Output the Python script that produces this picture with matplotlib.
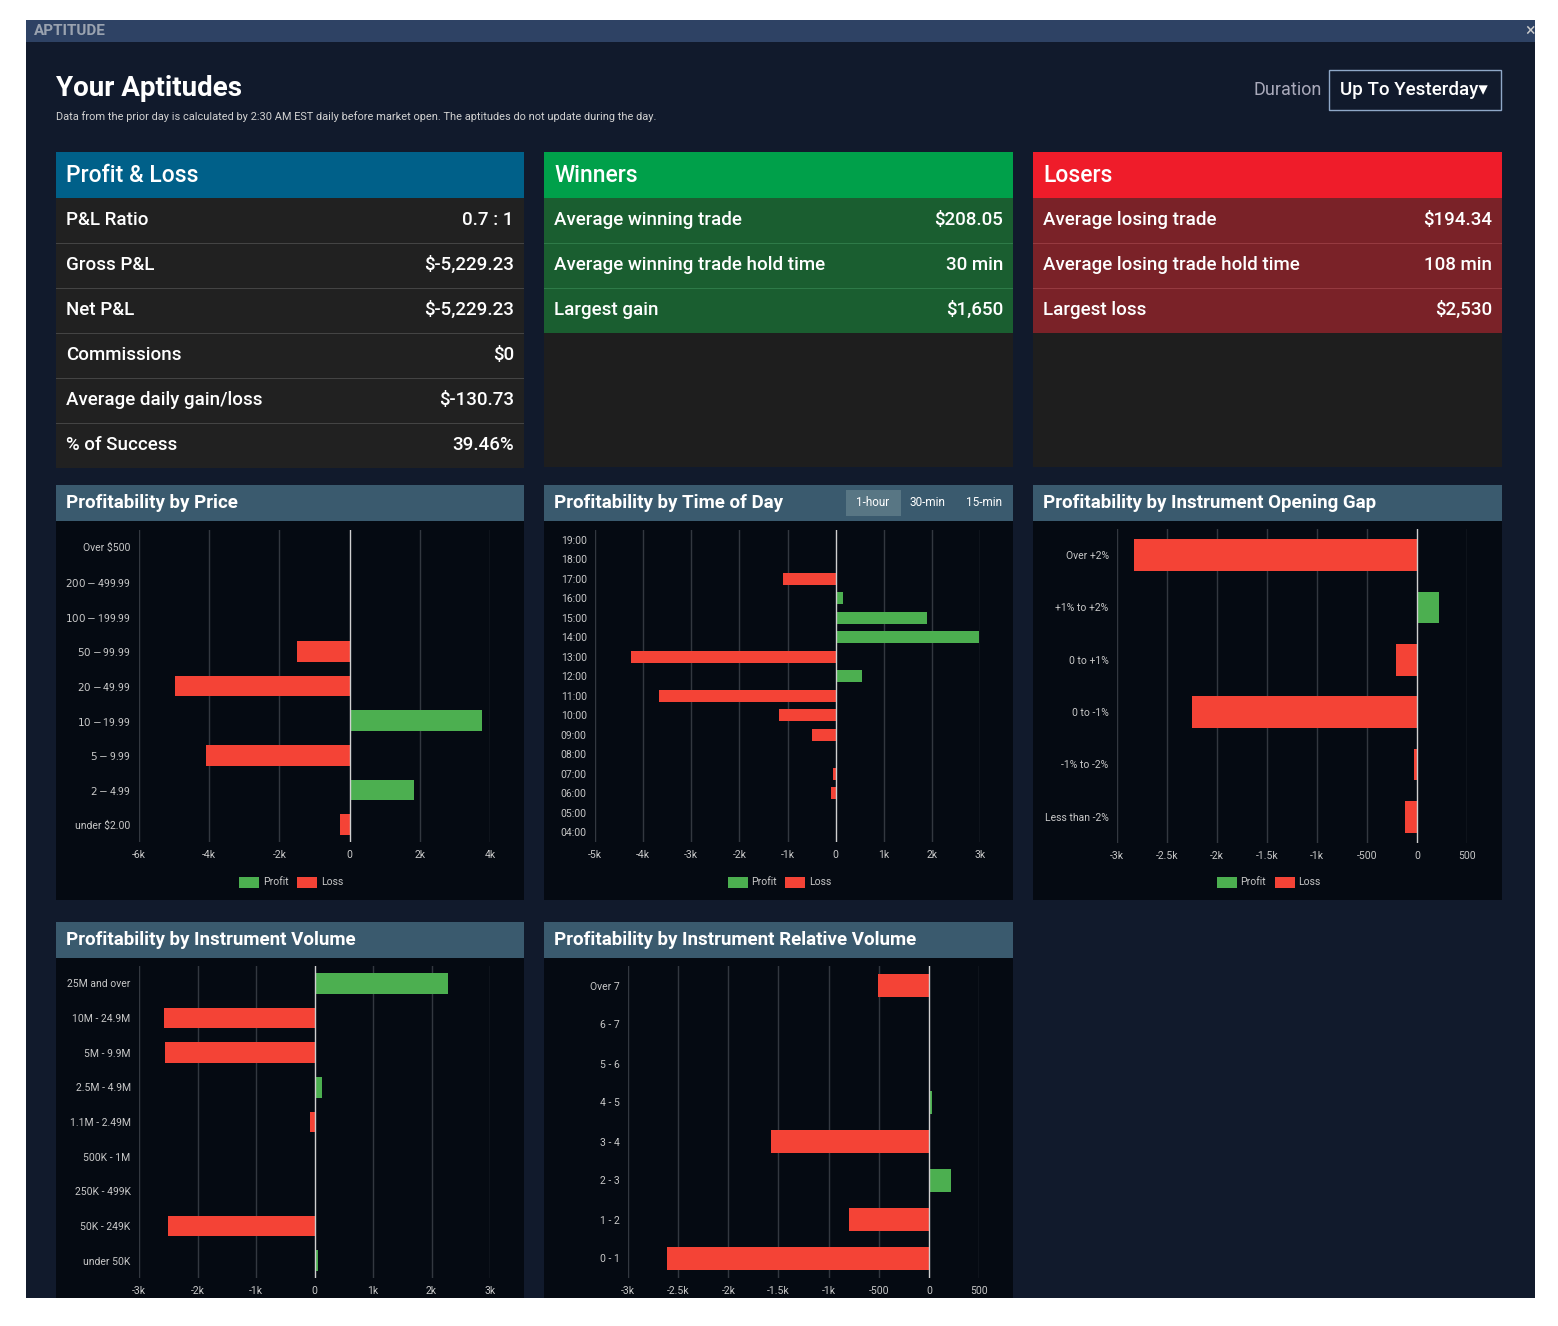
import matplotlib.pyplot as plt
from matplotlib.patches import Rectangle

W, H = 1558, 1326
plt.rcParams['font.family'] = ['Roboto', 'DejaVu Sans']

# --- data ---
pl_rows = [("P&L Ratio", "0.7 : 1"), ("Gross P&L", "$-5,229.23"), ("Net P&L", "$-5,229.23"),
           ("Commissions", "$0"), ("Average daily gain/loss", "$-130.73"), ("% of Success", "39.46%")]
win_rows = [("Average winning trade", "$208.05"), ("Average winning trade hold time", "30 min"),
            ("Largest gain", "$1,650")]
loss_rows = [("Average losing trade", "$194.34"), ("Average losing trade hold time", "108 min"),
             ("Largest loss", "$2,530")]

price_cats = ["Over $500", "$200 - $499.99", "$100 - $199.99", "$50 - $99.99", "$20 - $49.99",
              "$10 - $19.99", "$5 - $9.99", "$2 - $4.99", "under $2.00"]
price_vals = [0, 0, 0, -1490, -4970, 3770, -4090, 1830, -260]

time_cats = ["19:00", "18:00", "17:00", "16:00", "15:00", "14:00", "13:00", "12:00", "11:00",
             "10:00", "09:00", "08:00", "07:00", "06:00", "05:00", "04:00"]
time_vals = [0, 0, -1100, 150, 1900, 2970, -4250, 540, -3680, -1180, -500, 0, -60, -90, 0, 0]

gap_cats = ["Over +2%", "+1% to +2%", "0 to +1%", "0 to -1%", "-1% to -2%", "Less than -2%"]
gap_vals = [-2830, 220, -210, -2250, -30, -120]

vol_cats = ["25M and over", "10M - 24.9M", "5M - 9.9M", "2.5M - 4.9M", "1.1M - 2.49M",
            "500K - 1M", "250K - 499K", "50K - 249K", "under 50K"]
vol_vals = [2290, -2580, -2560, 120, -70, 0, 0, -2500, 60]

rvol_cats = ["Over 7", "6 - 7", "5 - 6", "4 - 5", "3 - 4", "2 - 3", "1 - 2", "0 - 1"]
rvol_vals = [-510, 0, 0, 30, -1570, 220, -800, -2610]

GREEN, RED = "#4caf50", "#f44336"

fig = plt.figure(figsize=(W / 100, H / 100), dpi=100, facecolor="white")


def rect(x0, y0, x1, y1, color, **kw):
    fig.patches.append(Rectangle((x0 / W, 1 - y1 / H), (x1 - x0) / W, (y1 - y0) / H,
                                 transform=fig.transFigure, color=color, lw=0, **kw))


def text(x, y, s, **kw):
    kw.setdefault("color", "white")
    kw.setdefault("va", "center")
    fig.text(x / W, 1 - y / H, s, **kw)


# window
rect(26, 20, 1535, 1298, "#111a2c")
rect(26, 20, 1535, 42, "#2e4264")
text(34, 31, "APTITUDE", color="#9aa3b0", fontsize=11, fontweight="bold")
text(1525, 31, "×", color="#ccc", fontsize=13)
text(56, 88, "Your Aptitudes", fontsize=20, fontweight="bold")
text(56, 117, "Data from the prior day is calculated by 2:30 AM EST daily before market open. "
     "The aptitudes do not update during the day.", fontsize=7.9, color="#d0d0d0")
text(1322, 90, "Duration", fontsize=13, color="#aab", ha="right")
fig.patches.append(Rectangle((1329 / W, 1 - 110 / H), 172 / W, 40 / H, transform=fig.transFigure,
                             fill=False, ec="#8fa8c8", lw=1))
text(1340, 90, "Up To Yesterday▾", fontsize=13.5, fontweight="medium")


# stat cards
def card(x0, x1, title, hcol, rowcol, rows, seps):
    rect(x0, 152, x1, 467, "#1e1e1e")
    rect(x0, 152, x1, 198, hcol)
    text(x0 + 10, 176, title, fontsize=16.5, fontweight="medium")
    for i, (k, v) in enumerate(rows):
        y0 = 198 + i * 45
        rect(x0, y0, x1, y0 + 45, rowcol)
        if i > 0:
            rect(x0, y0, x1, y0 + 1, seps)
        text(x0 + 10, y0 + 22, k, fontsize=13.5, fontweight="medium")
        text(x1 - 10, y0 + 22, v, fontsize=13.5, ha="right", fontweight="medium")


card(56, 524, "Profit & Loss", "#006089", "#212121", pl_rows, "#444")
card(544, 1013, "Winners", "#00a04a", "#1a5e30", win_rows, "#2e7a48")
card(1033, 1502, "Losers", "#ef1c2a", "#7a2228", loss_rows, "#963a40")


def chart(px0, px1, py0, py1, title, cats, vals, xlim, ticks, tlabels, ax_x, ax_y, legend=True):
    rect(px0, py0, px1, py1, "#050a12")
    rect(px0, py0, px1, py0 + 36, "#3a5a6e")
    text(px0 + 10, py0 + 18, title, fontsize=13.5, fontweight="bold")
    ax = fig.add_axes([ax_x[0] / W, 1 - ax_y[1] / H, (ax_x[1] - ax_x[0]) / W,
                       (ax_y[1] - ax_y[0]) / H])
    ax.set_zorder(5)
    ax.set_facecolor("none")
    y = list(range(len(cats)))
    cols = [GREEN if v > 0 else RED for v in vals]
    ax.barh(y, vals, height=0.6, color=cols, zorder=3)
    ax.set_yticks(y, cats)
    ax.set_ylim(len(cats) - 0.5, -0.5)
    ax.set_xlim(*xlim)
    ax.set_xticks(ticks, tlabels)
    for t in ticks:
        ax.axvline(t, color="#d0d0d0" if t == 0 else "#333840", lw=1, zorder=1 if t else 4)
    for s in ax.spines.values():
        s.set_visible(False)
    ax.tick_params(length=0, colors="#c8c8c8", labelsize=7.5, pad=6)
    if legend:
        cx = (px0 + px1) / 2
        rect(cx - 51, 877, cx - 31, 888, GREEN)
        text(cx - 27, 882, "Profit", fontsize=7.5, color="#c8c8c8")
        rect(cx + 7, 877, cx + 27, 888, RED)
        text(cx + 31, 882, "Loss", fontsize=7.5, color="#c8c8c8")
    return ax


k = lambda ts: [("0" if t == 0 else f"{t / 1000:g}k") for t in ts]
pt = [-6000, -4000, -2000, 0, 2000, 4000]
chart(56, 524, 485, 900, "Profitability by Price", price_cats, price_vals, (-6000, 4000),
      pt, k(pt), (139, 490), (530, 842))
tt = list(range(-5000, 3001, 1000))
chart(544, 1013, 485, 900, "Profitability by Time of Day", time_cats, time_vals, (-5000, 3000),
      tt, k(tt), (595, 980), (530, 842))
rect(846, 490, 901, 516, "#587684")
text(873, 503, "1-hour", fontsize=8.5, ha="center")
text(927, 503, "30-min", fontsize=8.5, ha="center")
text(984, 503, "15-min", fontsize=8.5, ha="center")
gt = [-3000, -2500, -2000, -1500, -1000, -500, 0, 500]
gl = ["-3k", "-2.5k", "-2k", "-1.5k", "-1k", "-500", "0", "500"]
chart(1033, 1502, 485, 900, "Profitability by Instrument Opening Gap", gap_cats, gap_vals,
      (-3000, 500), gt, gl, (1117, 1467), (529, 843))
vt = list(range(-3000, 3001, 1000))
chart(56, 524, 922, 1298, "Profitability by Instrument Volume", vol_cats, vol_vals, (-3000, 3000),
      vt, k(vt), (139, 490), (966, 1278), legend=False)
chart(544, 1013, 922, 1298, "Profitability by Instrument Relative Volume", rvol_cats, rvol_vals,
      (-3000, 500), gt, gl, (628, 979), (966, 1278), legend=False)

# clip bottom like the screenshot (drawn above the axes)
clip = fig.add_axes([0, 0, 1, (H - 1298) / H], zorder=20)
clip.set_facecolor("white")
clip.axis("off")
clip.add_patch(Rectangle((0, 0), 1, 1, transform=clip.transAxes, color="white", lw=0))

fig.savefig("out.png", dpi=100, facecolor="white")
